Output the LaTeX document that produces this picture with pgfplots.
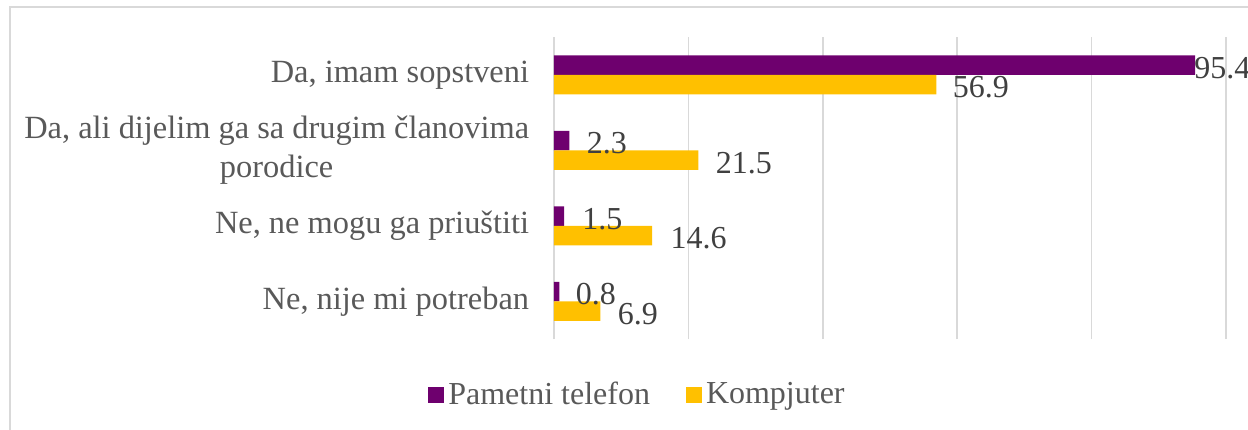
\documentclass[border=0pt]{standalone}
\usepackage{pgfplots}
\pgfplotsset{compat=1.18}
\usepackage{pgfplotstable}
\usepackage{fontspec}
\setmainfont{Liberation Serif}
\definecolor{cpurple}{HTML}{6E006E}
\definecolor{cyellow}{HTML}{FFC000}
\definecolor{cgrid}{HTML}{D9D9D9}
\definecolor{ctext}{HTML}{595959}
\definecolor{clabel}{HTML}{404040}
\pgfplotstableread{
y x dx
3 95.4 -0.5
2 2.3 8.5
1 1.5 9
0 0.8 8
}\phone
\pgfplotstableread{
y x dx
3 56.9 8
2 21.5 8.5
1 14.6 9
0 6.9 8.5
}\computer
\begin{document}
\begin{tikzpicture}
\path[use as bounding box] (-277pt,-45pt) rectangle (347pt,169.5pt);
\draw[cgrid, line width=0.9pt] (370pt,166pt) -- (-272pt,166pt) -- (-272pt,-70pt);
\begin{axis}[
  at={(0pt,0pt)}, anchor=south west,
  scale only axis, width=336pt, height=151pt,
  xmin=0, xmax=100, ymin=-0.5, ymax=3.5,
  xtick={0,20,...,100}, xticklabels={},
  xmajorgrids, major grid style={cgrid, line width=0.75pt},
  ytick={0,1,2,3},
  yticklabels={{Ne, nije mi potreban},{Ne, ne mogu ga priuštiti},{Da, ali dijelim ga sa drugim članovima\\porodice},{Da, imam sopstveni}},
  yticklabel style={align=center, text=ctext, font=\fontsize{16.2pt}{19.5pt}\selectfont, inner sep=0pt, xshift=-8pt},
  axis line style={draw=none}, tick style={draw=none},
  xbar, bar width=9.75pt,
  nodes near coords,
  point meta=x,
  visualization depends on={\thisrow{dx} \as \dx},
  nodes near coords style={anchor=west, inner sep=0pt, xshift=\dx pt, yshift=-1.5pt, text=clabel,
     font=\fontsize{16pt}{19.5pt}\selectfont,
     /pgf/number format/.cd, fixed, fixed zerofill, precision=1, assume math mode=true},
  legend style={draw=none, fill=none, legend columns=2, text=ctext,
     font=\fontsize{16pt}{19.5pt}\selectfont,
     at={(0.1257,-0.185)}, anchor=center,
     /tikz/every even column/.append style={column sep=16pt}},
  legend image code/.code={\fill[#1] (0pt,-4pt) rectangle (8pt,4pt);},
]
\addplot[fill=cpurple, draw=none, bar shift=4.875pt] table[x=x, y=y] {\phone};
\addlegendentry{Pametni telefon}
\addplot[fill=cyellow, draw=none, bar shift=-4.875pt] table[x=x, y=y] {\computer};
\addlegendentry{Kompjuter}
\end{axis}
\end{tikzpicture}
\end{document}
